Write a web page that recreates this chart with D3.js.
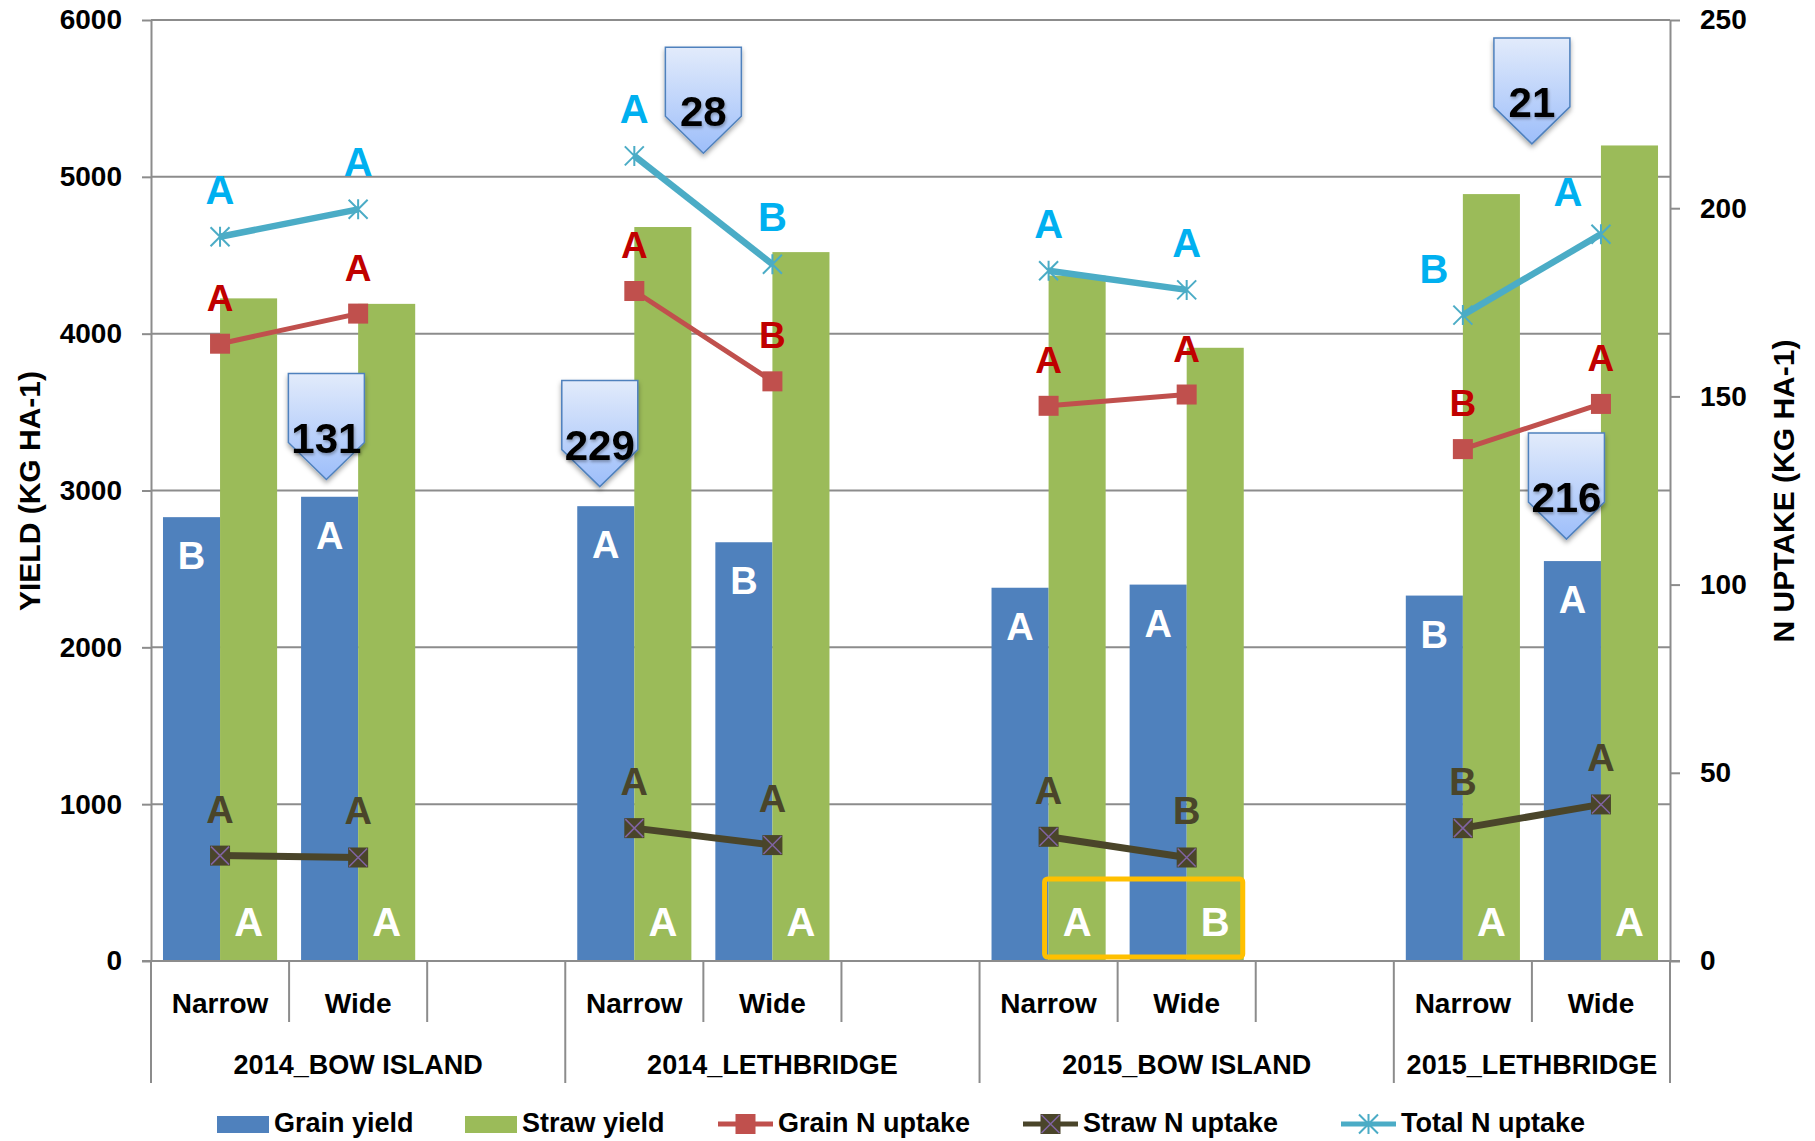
<!DOCTYPE html>
<html>
<head>
<meta charset="utf-8">
<script src="https://cdn.jsdelivr.net/npm/d3@7"></script>
<style>
    body { margin: 0; background: #fff; }
    svg text { font-family: "Liberation Sans", Arial, sans-serif; font-weight: bold; }
</style>
</head>
<body>
<svg id="chart" width="1815" height="1141"></svg>
<script>
// ---- data ----
const groups = ["2014_BOW ISLAND", "2014_LETHBRIDGE", "2015_BOW ISLAND", "2015_LETHBRIDGE"];
const spacings = ["Narrow", "Wide"];

// kg/ha, order: group x spacing
const grainYield = [2830, 2960, 2900, 2670, 2380, 2400, 2330, 2550];
const strawYield = [4225, 4190, 4680, 4520, 4370, 3910, 4890, 5200];

// kg/ha N uptake (right axis)
const grainN = [164, 172, 178, 154, 147.5, 150.5, 136, 148];
const strawN = [28, 27.5, 35.3, 30.8, 33, 27.5, 35.3, 41.6];
const totalN = [192.4, 199.7, 213.9, 185.1, 183.4, 178.3, 171.6, 193.1];

// significance letters
const grainLetters = ["B", "A", "A", "B", "A", "A", "B", "A"];
const strawLetters = ["A", "A", "A", "A", "A", "B", "A", "A"];
const grainNLetters = ["A", "A", "A", "B", "A", "A", "B", "A"];
const strawNLetters = ["A", "A", "A", "A", "A", "B", "B", "A"];
const totalNLetters = ["A", "A", "A", "B", "A", "A", "B", "A"];

const yieldTicks = [0, 1000, 2000, 3000, 4000, 5000, 6000];
const uptakeTicks = [0, 50, 100, 150, 200, 250];

// callout flags: number, group, spacing, tip height on yield axis
const callouts = [
    { label: "131", group: 0, spacing: "Wide", tip: 3070 },
    { label: "229", group: 1, spacing: "Narrow", tip: 3025 },
    { label: "28", group: 1, spacing: "Wide", tip: 5150 },
    { label: "21", group: 3, spacing: "Wide", tip: 5210 },
    { label: "216", group: 3, spacing: "Wide", tip: 2690 }
];
// ----------------------------------

(function () {
    const colors = {
        grain: "#4F81BD", straw: "#9BBB59",
        grainN: "#C0504D", strawN: "#4A452A", totalN: "#4BACC6",
        grainNText: "#C00000", strawNText: "#4A452A", totalNText: "#00B0F0",
        grid: "#8C8C8C"
    };

    const plotLeft = 151, plotRight = 1670, plotTop = 20, plotBottom = 961;

    const svg = d3.select("#chart");

    // slots: Narrow, Wide, gap per group (no gap after last)
    const slotKeys = [];
    const groupBounds = [];
    groups.forEach((g, gi) => {
        const start = slotKeys.length;
        spacings.forEach(s => slotKeys.push(g + "|" + s));
        if (gi < groups.length - 1) slotKeys.push(g + "|gap");
        groupBounds.push([start, slotKeys.length]);
    });

    const rows = groups.flatMap((g, gi) => spacings.map((s, si) => ({
        key: g + "|" + s, group: gi, spacing: s, i: gi * spacings.length + si
    })));

    const x = d3.scaleBand().domain(slotKeys).range([plotLeft, plotRight]);
    const step = x.step();
    const sub = d3.scaleBand().domain(["grain", "straw"]).range([0, x.bandwidth()]).paddingOuter(0.21);
    const cx = r => x(r.key) + x.bandwidth() / 2;

    const yL = d3.scaleLinear().domain([0, 6000]).range([plotBottom, plotTop]);
    const yR = d3.scaleLinear().domain([0, 250]).range([plotBottom, plotTop]);

    const defs = svg.append("defs");
    const grad = defs.append("linearGradient").attr("id", "flagFill")
        .attr("x1", 0).attr("y1", 0).attr("x2", 0).attr("y2", 1);
    grad.append("stop").attr("offset", "0%").attr("stop-color", "#E2EBFB");
    grad.append("stop").attr("offset", "100%").attr("stop-color", "#9DBEFA");
    const shadow = defs.append("filter").attr("id", "shadow")
        .attr("x", "-30%").attr("y", "-30%").attr("width", "160%").attr("height", "160%");
    shadow.append("feDropShadow").attr("dx", 0).attr("dy", 3).attr("stdDeviation", 2.5)
        .attr("flood-color", "#000").attr("flood-opacity", 0.35);
    const textShadow = defs.append("filter").attr("id", "textShadow")
        .attr("x", "-30%").attr("y", "-30%").attr("width", "160%").attr("height", "160%");
    textShadow.append("feDropShadow").attr("dx", 1).attr("dy", 2).attr("stdDeviation", 1.5)
        .attr("flood-color", "#000").attr("flood-opacity", 0.3);

    // gridlines
    svg.append("g").selectAll("line")
        .data(yieldTicks.filter(v => v > 0))
        .join("line")
        .attr("x1", plotLeft).attr("x2", plotRight)
        .attr("y1", d => yL(d)).attr("y2", d => yL(d))
        .attr("stroke", colors.grid).attr("stroke-width", 2);

    // axes
    const styleAxis = g => {
        g.select(".domain").attr("stroke", colors.grid).attr("stroke-width", 2);
        g.selectAll(".tick line").attr("stroke", colors.grid).attr("stroke-width", 2);
        g.selectAll(".tick text").attr("fill", "#000")
            .style("font-family", "'Liberation Sans', Arial, sans-serif")
            .style("font-weight", "bold").style("font-size", "28px");
    };
    svg.append("g").attr("transform", `translate(${plotLeft},0)`)
        .call(d3.axisLeft(yL).tickValues(yieldTicks).tickSize(9).tickSizeOuter(0).tickPadding(20).tickFormat(d3.format("d")))
        .call(styleAxis);
    svg.append("g").attr("transform", `translate(${plotRight},0)`)
        .call(d3.axisRight(yR).tickValues(uptakeTicks).tickSize(10).tickSizeOuter(0).tickPadding(20).tickFormat(d3.format("d")))
        .call(styleAxis);

    // category separators
    const longBounds = new Set(groupBounds.flatMap(b => b));
    svg.append("g").selectAll("line")
        .data(d3.range(slotKeys.length + 1))
        .join("line")
        .attr("x1", i => plotLeft + i * step).attr("x2", i => plotLeft + i * step)
        .attr("y1", plotBottom).attr("y2", i => longBounds.has(i) ? 1083 : 1022)
        .attr("stroke", colors.grid).attr("stroke-width", 2);

    // bars
    const bars = svg.append("g");
    bars.selectAll(".grain").data(rows).join("rect").attr("class", "grain")
        .attr("x", r => x(r.key) + sub("grain")).attr("width", sub.bandwidth())
        .attr("y", r => yL(grainYield[r.i])).attr("height", r => plotBottom - yL(grainYield[r.i]))
        .attr("fill", colors.grain);
    bars.selectAll(".straw").data(rows).join("rect").attr("class", "straw")
        .attr("x", r => x(r.key) + sub("straw")).attr("width", sub.bandwidth())
        .attr("y", r => yL(strawYield[r.i])).attr("height", r => plotBottom - yL(strawYield[r.i]))
        .attr("fill", colors.straw);

    // zero line on top of bars
    svg.append("line").attr("x1", plotLeft - 9).attr("x2", plotRight + 10)
        .attr("y1", plotBottom).attr("y2", plotBottom)
        .attr("stroke", colors.grid).attr("stroke-width", 2);

    // bar letters (white)
    svg.append("g").selectAll("text").data(rows).join("text")
        .attr("x", r => x(r.key) + sub("grain") + sub.bandwidth() / 2)
        .attr("y", r => yL(grainYield[r.i]) + 52)
        .attr("text-anchor", "middle").attr("fill", "#fff").style("font-size", "38px")
        .text(r => grainLetters[r.i]);
    svg.append("g").selectAll("text").data(rows).join("text")
        .attr("x", r => x(r.key) + sub("straw") + sub.bandwidth() / 2)
        .attr("y", plotBottom - 25)
        .attr("text-anchor", "middle").attr("fill", "#fff").style("font-size", "40px")
        .text(r => strawLetters[r.i]);

    // highlight box around 2015_BOW ISLAND straw letters
    {
        const n = rows[4], w = rows[5];
        const bx0 = x(n.key) + sub("straw") - 4;
        const bx1 = x(w.key) + sub("straw") + sub.bandwidth() - 1;
        svg.append("rect").attr("x", bx0).attr("y", plotBottom - 82)
            .attr("width", bx1 - bx0).attr("height", 78).attr("rx", 3)
            .attr("fill", "none").attr("stroke", "#FFC000").attr("stroke-width", 5);
    }

    // line series
    const line = d3.line().x(d => d[0]).y(d => d[1]);
    const series = [
        { key: "strawN", values: strawN, color: colors.strawN, width: 7, marker: "xsquare", letters: strawNLetters, text: colors.strawNText, size: 38 },
        { key: "grainN", values: grainN, color: colors.grainN, width: 5, marker: "square", letters: grainNLetters, text: colors.grainNText, size: 37 },
        { key: "totalN", values: totalN, color: colors.totalN, width: 6.5, marker: "star", letters: totalNLetters, text: colors.totalNText, size: 40 }
    ];

    function drawMarker(g, type, color) {
        if (type === "square") {
            g.append("rect").attr("x", -10).attr("y", -10).attr("width", 20).attr("height", 20).attr("fill", color);
        } else if (type === "xsquare") {
            g.append("rect").attr("x", -10).attr("y", -10).attr("width", 20).attr("height", 20).attr("fill", color);
            g.append("path").attr("d", "M-9,-9L9,9M-9,9L9,-9").attr("stroke", "#8064A2").attr("stroke-width", 1.5);
        } else {
            g.append("path").attr("d", "M0,-10V10M-9.5,-9.5L9.5,9.5M-9.5,9.5L9.5,-9.5")
                .attr("stroke", color).attr("stroke-width", 2).attr("fill", "none");
        }
    }

    // per-point letter nudges for the total N series at 2015_LETHBRIDGE
    const letterShift = { "totalN|6": [-29, 1], "totalN|7": [-33, 5] };
    const shiftOf = (s, r) => letterShift[s.key + "|" + r.i] || [0, 0];

    series.forEach(s => {
        const g = svg.append("g");
        groups.forEach((grp, gi) => {
            const pts = rows.filter(r => r.group === gi).map(r => [cx(r), yR(s.values[r.i])]);
            g.append("path").attr("d", line(pts)).attr("fill", "none")
                .attr("stroke", s.color).attr("stroke-width", s.width);
        });
        rows.forEach(r => {
            const m = g.append("g").attr("transform", `translate(${cx(r)},${yR(s.values[r.i])})`);
            drawMarker(m, s.marker, s.color);
        });
        g.selectAll("text.l").data(rows).join("text").attr("class", "l")
            .attr("x", r => cx(r) + shiftOf(s, r)[0])
            .attr("y", r => yR(s.values[r.i]) - 33 + shiftOf(s, r)[1])
            .attr("text-anchor", "middle").attr("fill", s.text).style("font-size", s.size + "px")
            .text(r => s.letters[r.i]);
    });

    // callout flags
    const flagW = 76, flagH = 106, flagPoint = 37;
    const flagFrac = { "131": 0.27, "229": 0.25, "28": 0, "21": 0, "216": 0.25 };
    callouts.forEach(c => {
        const key = groups[c.group] + "|" + c.spacing;
        const tx = x(key) + flagFrac[c.label] * step;
        const ty = yL(c.tip);
        const g = svg.append("g").attr("transform", `translate(${tx},${ty})`);
        g.append("path")
            .attr("d", `M${-flagW / 2},${-flagH}H${flagW / 2}V${-flagPoint}L0,0L${-flagW / 2},${-flagPoint}Z`)
            .attr("fill", "url(#flagFill)").attr("stroke", "#4F81BD").attr("stroke-width", 1.5)
            .attr("filter", "url(#shadow)");
        g.append("text").attr("x", 0).attr("y", -27).attr("text-anchor", "middle")
            .attr("fill", "#000").style("font-size", "42px").attr("filter", "url(#textShadow)")
            .text(c.label);
    });

    // category labels
    svg.append("g").selectAll("text").data(rows).join("text")
        .attr("x", cx).attr("y", 1013).attr("text-anchor", "middle").style("font-size", "28px")
        .text(r => r.spacing);
    svg.append("g").selectAll("text").data(groups).join("text")
        .attr("x", (g, gi) => plotLeft + (groupBounds[gi][0] + groupBounds[gi][1]) / 2 * step)
        .attr("y", 1074).attr("text-anchor", "middle").style("font-size", "27px")
        .text(g => g);

    // axis titles
    svg.append("text").attr("transform", "translate(29,491) rotate(-90)")
        .attr("dy", "0.36em").attr("text-anchor", "middle").style("font-size", "30px")
        .text("YIELD (KG HA-1)");
    svg.append("text").attr("transform", "translate(1783,491) rotate(-90)")
        .attr("dy", "0.36em").attr("text-anchor", "middle").style("font-size", "30px")
        .text("N UPTAKE (KG HA-1)");

    // legend
    const legendItems = [
        { label: "Grain yield", type: "bar", color: colors.grain, x: 217 },
        { label: "Straw yield", type: "bar", color: colors.straw, x: 465 },
        { label: "Grain N uptake", type: "square", color: colors.grainN, x: 718 },
        { label: "Straw N uptake", type: "xsquare", color: colors.strawN, x: 1023 },
        { label: "Total N uptake", type: "star", color: colors.totalN, x: 1341 }
    ];
    const ly = 1124;
    const legend = svg.append("g");
    legendItems.forEach(it => {
        const g = legend.append("g").attr("transform", `translate(${it.x},${ly})`);
        if (it.type === "bar") {
            g.append("rect").attr("x", 0).attr("y", -8).attr("width", 52).attr("height", 17).attr("fill", it.color);
        } else {
            g.append("line").attr("x1", 0).attr("x2", 55).attr("y1", 0).attr("y2", 0)
                .attr("stroke", it.color).attr("stroke-width", 5);
            const m = g.append("g").attr("transform", "translate(27.5,0)");
            drawMarker(m, it.type, it.color);
        }
        g.append("text").attr("x", it.type === "bar" ? 57 : 60).attr("y", 8)
            .style("font-size", "27px").attr("fill", "#000").text(it.label);
    });
})();
</script>
</body>
</html>
